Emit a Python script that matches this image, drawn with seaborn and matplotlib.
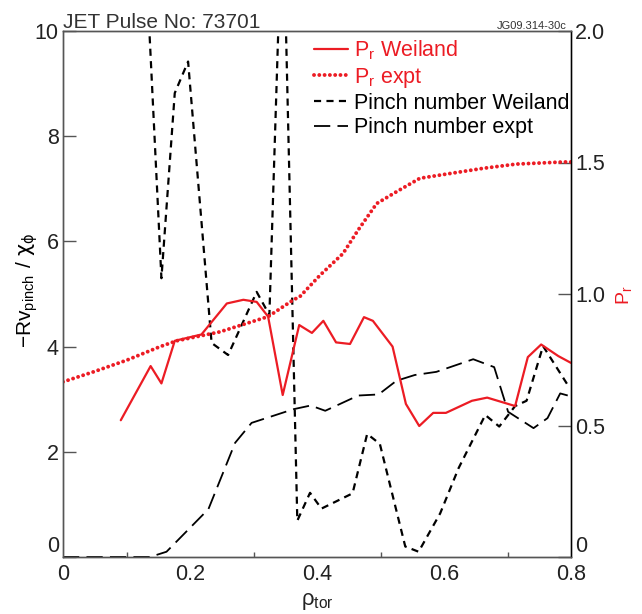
import matplotlib
matplotlib.use("Agg")
import matplotlib.pyplot as plt
import seaborn as sns
from matplotlib.lines import Line2D
from matplotlib.ticker import FixedLocator

# ---- profiles versus normalised toroidal radius ----
rho_pr_weiland = [0.091, 0.138, 0.155, 0.176, 0.218, 0.258, 0.284, 0.305, 0.323,
                  0.346, 0.372, 0.392, 0.410, 0.430, 0.452, 0.474, 0.488, 0.519,
                  0.540, 0.561, 0.583, 0.603, 0.644, 0.668, 0.712, 0.732, 0.753,
                  0.780, 0.800]
pr_weiland = [0.520, 0.726, 0.660, 0.822, 0.846, 0.964, 0.978, 0.970, 0.914,
              0.616, 0.882, 0.852, 0.898, 0.816, 0.810, 0.912, 0.898, 0.800,
              0.582, 0.498, 0.548, 0.548, 0.594, 0.606, 0.574, 0.760, 0.808,
              0.764, 0.738]

rho_pr_expt = [0.0, 0.048, 0.100, 0.153, 0.179, 0.247, 0.323, 0.363, 0.373,
               0.405, 0.441, 0.465, 0.494, 0.526, 0.562, 0.609, 0.662, 0.714,
               0.788, 0.800]
pr_expt = [0.666, 0.704, 0.748, 0.800, 0.822, 0.856, 0.914, 0.978, 0.990,
           1.072, 1.154, 1.244, 1.344, 1.390, 1.440, 1.458, 1.478, 1.494,
           1.502, 1.502]

rho_pinch_weiland = [0.130, 0.155, 0.176, 0.197, 0.234, 0.260, 0.305, 0.325,
                     0.346, 0.369, 0.389, 0.407, 0.456, 0.479, 0.499, 0.539,
                     0.560, 0.594, 0.623, 0.665, 0.687, 0.712, 0.730, 0.756,
                     0.798]
pinch_weiland = [11.5, 5.30, 8.82, 9.42, 4.07, 3.84, 5.04, 4.60,
                 12.7, 0.69, 1.22, 0.92, 1.21, 2.34, 2.15, 0.20,
                 0.10, 0.83, 1.69, 2.70, 2.48, 2.87, 2.97, 4.01,
                 3.21]

rho_pinch_expt = [0.0, 0.137, 0.163, 0.229, 0.271, 0.297, 0.363, 0.390, 0.413,
                  0.465, 0.497, 0.525, 0.554, 0.588, 0.646, 0.679, 0.701, 0.741,
                  0.763, 0.783, 0.798]
pinch_expt = [0.0, 0.0, 0.10, 0.91, 2.17, 2.55, 2.81, 2.88, 2.78,
              3.07, 3.09, 3.35, 3.46, 3.52, 3.76, 3.61, 2.76, 2.45,
              2.64, 3.11, 3.06]

x_ticks = [0, 0.2, 0.4, 0.6, 0.8]
x_tick_labels = ["0", "0.2", "0.4", "0.6", "0.8"]
x_minor_ticks = [0.1, 0.3, 0.5, 0.7]
left_ticks = [0, 2, 4, 6, 8, 10]
left_tick_labels = ["0", "2", "4", "6", "8", "10"]
right_ticks = [0, 0.5, 1.0, 1.5, 2.0]
right_tick_labels = ["0", "0.5", "1.0", "1.5", "2.0"]

legend_labels = [r"P$_\mathregular{r}$ Weiland", r"P$_\mathregular{r}$ expt",
                 "Pinch number Weiland", "Pinch number expt"]

RED = "#ec1c24"
GREY = "#555555"
TXT = "#222222"

sns.set_style("white")
plt.rcParams["font.family"] = ["Liberation Sans", "DejaVu Sans"]
plt.rcParams["mathtext.fontset"] = "custom"
plt.rcParams["mathtext.rm"] = "DejaVu Sans"
plt.rcParams["mathtext.it"] = "DejaVu Sans"
plt.rcParams["mathtext.bf"] = "DejaVu Sans:bold"

fig = plt.figure(figsize=(6.42, 6.14), dpi=100)
ax = fig.add_axes([63 / 642, 57 / 614, 508 / 642, 526 / 614])
ax2 = ax.twinx()

short_dash = (0, (3.2, 2.4))
long_dash = (0, (9.0, 4.0))

# pinch numbers on the left axis
sns.lineplot(x=rho_pinch_weiland, y=pinch_weiland, ax=ax, color="black",
             lw=1.6, sort=False, estimator=None)
ax.lines[-1].set_linestyle(short_dash)
sns.lineplot(x=rho_pinch_expt, y=pinch_expt, ax=ax, color="black",
             lw=1.3, sort=False, estimator=None)
ax.lines[-1].set_linestyle(long_dash)

# Prandtl numbers on the right axis
sns.lineplot(x=rho_pr_weiland, y=pr_weiland, ax=ax2, color=RED,
             lw=1.6, sort=False, estimator=None)
sns.lineplot(x=rho_pr_expt, y=pr_expt, ax=ax2, color=RED,
             lw=2.8, sort=False, estimator=None)
dots = ax2.lines[-1]
dots.set_linestyle((0, (0.01, 1.35)))
dots.set_dash_capstyle("round")

ax.set_xlim(0, 0.8)
ax.set_ylim(0, 10)
ax2.set_ylim(0, 2)

ax.xaxis.set_major_locator(FixedLocator(x_ticks))
ax.set_xticklabels(x_tick_labels)
ax.xaxis.set_minor_locator(FixedLocator(x_minor_ticks))
ax.set_yticks(left_ticks)
ax.set_yticklabels(left_tick_labels)
ax2.set_yticks(right_ticks)
ax2.set_yticklabels(right_tick_labels)

ax.tick_params(axis="both", which="major", direction="in", length=9.4, width=1.0,
               color=GREY, labelsize=15.5, labelcolor=TXT, pad=3)
ax.tick_params(axis="x", which="minor", direction="in", length=3.8, width=1.0,
               color=GREY, bottom=True)
ax.tick_params(axis="x", pad=5)
ax.tick_params(axis="y", left=True, right=False)
ax2.tick_params(axis="y", which="major", direction="in", length=9.4, width=1.0,
                color=GREY, labelsize=15.5, labelcolor=TXT, pad=3, right=True)

# the zero labels of both value axes sit just above the baseline
ax.get_yticklabels()[0].set_va("bottom")
ax2.get_yticklabels()[0].set_va("bottom")

for sp in list(ax.spines.values()) + list(ax2.spines.values()):
    sp.set_color(GREY)
    sp.set_linewidth(1.0)
ax2.spines["right"].set_color("black")
ax2.set_zorder(ax.get_zorder() + 1)
ax2.patch.set_visible(False)

# axis titles
fig.text(317 / 642, 1 - 601 / 614, r"$\mathregular{\rho_{tor}}$", fontsize=16,
         color=TXT, ha="center", va="center")
fig.text(27 / 642, 1 - 290 / 614,
         r"$\mathregular{-Rv_{pinch}\ /\ }\chi_{\phi}$",
         fontsize=15, color="black", rotation=90, ha="center", va="center")
fig.text(625 / 642, 1 - 295 / 614, r"P$_\mathregular{r}$", fontsize=14,
         color=RED, rotation=90, ha="center", va="center")

fig.text(63 / 642, 1 - 28 / 614, "JET Pulse No: 73701", fontsize=15,
         color="#333333", ha="left", va="baseline")
fig.text(567 / 642, 1 - 29 / 614, "JG09.314-30c", fontsize=8,
         color="#333333", ha="right", va="baseline")

handles = [
    Line2D([], [], color=RED, lw=1.6),
    Line2D([], [], color=RED, lw=2.8, linestyle=(0, (0.01, 1.35)),
           dash_capstyle="round"),
    Line2D([], [], color="black", lw=1.6, linestyle=short_dash),
    Line2D([], [], color="black", lw=1.3, linestyle=long_dash),
]
leg = ax2.legend(handles, legend_labels, loc="upper left",
                 bbox_to_anchor=(0.495, 0.985), frameon=False, fontsize=15.5,
                 handlelength=1.55, handletextpad=0.3, labelspacing=0.15,
                 borderpad=0, borderaxespad=0)
for t, c in zip(leg.get_texts(), [RED, RED, "black", "black"]):
    t.set_color(c)

fig.savefig("out.png", dpi=100)
